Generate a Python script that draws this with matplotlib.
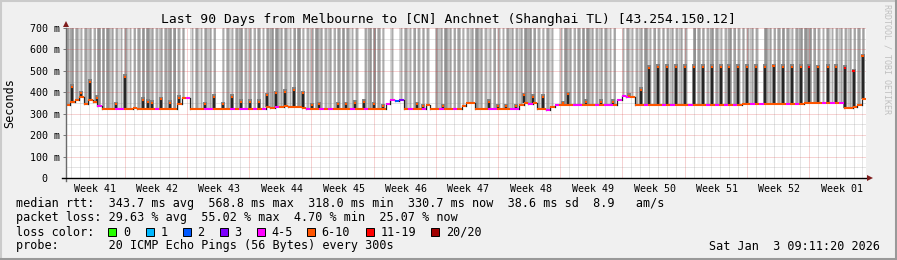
import matplotlib
matplotlib.use("Agg")
import matplotlib.pyplot as plt
import numpy as np
from matplotlib.patches import Rectangle
from matplotlib.lines import Line2D

# ---------------- data ----------------
title = "Last 90 Days from Melbourne to [CN] Anchnet (Shanghai TL) [43.254.150.12]"
week_labels = ["Week 41", "Week 42", "Week 43", "Week 44", "Week 45", "Week 46", "Week 47",
               "Week 48", "Week 49", "Week 50", "Week 51", "Week 52", "Week 01"]
y_ticks = [0, 100, 200, 300, 400, 500, 600, 700]
y_tick_labels = ["0  ", "100 m", "200 m", "300 m", "400 m", "500 m", "600 m", "700 m"]

# median RTT (ms) per half-day bin, 180 bins
median_ms = [
    340, 355, 365, 380, 345, 365, 355, 335, 320, 320,
    320, 322, 320, 320, 320, 325, 322, 320, 320, 320,
    322, 320, 320, 320, 322, 345, 375, 372, 322, 320,
    320, 320, 322, 320, 320, 320, 320, 322, 320, 320,
    320, 320, 322, 320, 320, 330, 328, 332, 330, 335,
    330, 333, 330, 325, 320, 320, 320, 320, 322, 320,
    320, 320, 320, 320, 322, 320, 320, 322, 320, 320,
    320, 320, 345, 362, 358, 366, 320, 320, 320, 320,
    320, 340, 320, 320, 320, 320, 320, 320, 320, 335,
    348, 348, 320, 320, 320, 320, 320, 320, 320, 320,
    320, 320, 340, 350, 345, 350, 320, 322, 316, 332,
    340, 340, 340, 340, 340, 340, 340, 340, 340, 340,
    340, 340, 340, 340, 365, 384, 378, 380, 343, 343,
    343, 343, 343, 343, 343, 343, 343, 343, 343, 343,
    343, 343, 343, 343, 343, 343, 343, 343, 343, 343,
    343, 343, 347, 347, 347, 347, 347, 347, 347, 347,
    347, 347, 347, 347, 347, 347, 352, 352, 352, 352,
    352, 352, 352, 352, 352, 328, 326, 330, 342, 368,
]
# lost pings (of 20) per bin
loss_pings = [
    6, 6, 6, 6, 6, 6, 6, 4, 6, 6,
    6, 4, 4, 6, 6, 6, 6, 6, 6, 6,
    4, 6, 6, 6, 6, 6, 6, 4, 6, 6,
    6, 4, 4, 6, 6, 6, 6, 4, 6, 4,
    4, 6, 4, 6, 4, 6, 6, 4, 6, 6,
    6, 6, 6, 6, 4, 6, 6, 4, 6, 4,
    6, 6, 6, 6, 4, 6, 6, 4, 6, 6,
    6, 6, 4, 4, 2, 3, 6, 4, 6, 6,
    4, 6, 6, 6, 4, 6, 6, 4, 6, 6,
    6, 6, 6, 6, 6, 4, 4, 6, 6, 6,
    4, 4, 6, 6, 4, 6, 6, 6, 4, 6,
    4, 6, 6, 6, 4, 4, 6, 6, 6, 4,
    6, 4, 4, 6, 4, 4, 4, 6, 6, 6,
    4, 6, 6, 6, 4, 6, 4, 6, 6, 6,
    4, 6, 6, 6, 4, 6, 4, 6, 4, 6,
    4, 6, 6, 6, 4, 6, 4, 6, 6, 6,
    6, 6, 4, 6, 4, 6, 6, 6, 6, 6,
    4, 6, 4, 6, 4, 6, 6, 6, 6, 6,
]
# smoke density above median per bin (0 none .. 3 dense)
smoke_shade = [
    2, 3, 2, 1, 2, 2, 1, 3, 3, 3, 2, 1, 1, 2, 1, 1, 2, 3, 3, 2,
    1, 2, 2, 3, 3, 1, 2, 0, 1, 2, 1, 2, 2, 1, 0, 1, 2, 1, 2, 3,
    1, 2, 1, 2, 1,
    2, 3, 3, 2, 2, 1, 2, 3, 1, 1, 2, 3, 2, 1, 2, 1, 2, 3, 2, 1,
    1, 0, 1, 3, 3, 2, 1, 0, 1, 0, 1, 2, 1, 2, 1, 2, 1, 0, 2, 2,
    3, 2, 1, 2, 1,
    1, 2, 3, 2, 1, 1, 2, 1, 1, 2, 2, 1, 2, 3, 3, 2, 1, 1, 2, 1,
    0, 1, 3, 2, 1, 2, 3, 3, 2, 1, 2, 2, 1, 1, 0, 1, 2, 1, 1, 2,
    3, 1, 2, 1, 2,
    1, 2, 1, 2, 1, 0, 3, 2, 2, 1, 3, 2, 1, 1, 3, 2, 1, 2, 1, 2,
    1, 0, 3, 2, 1, 2, 3, 2, 1, 2, 3, 3, 3, 2, 1, 1, 2, 1, 1, 2,
    1, 2, 1, 2, 2,
]
# short median spikes (day from start, peak ms, lost pings)
spike_day = [0.64, 1.65, 2.67, 3.45, 5.66, 6.64, 8.66, 9.26, 9.71, 10.65, 11.70, 12.71,
             15.60, 16.62, 17.70, 18.64, 19.65, 20.67, 21.71, 22.58, 23.62, 24.64, 25.68,
             26.63, 27.67, 28.50, 30.57, 31.50, 32.55, 33.56, 34.62, 35.63, 39.45, 40.13,
             42.38, 47.62, 48.63, 49.50, 50.62, 51.56, 52.50, 53.63, 55.88, 56.44, 58.50,
             60.19, 61.50, 63.37, 64.69, 65.62, 66.57, 67.61, 68.62, 69.64, 70.65, 71.63,
             72.67, 73.69, 74.62, 75.57, 76.58, 77.62, 78.64, 79.61, 80.63, 81.67, 82.69,
             83.62, 84.63, 85.69, 86.62, 87.64, 88.61, 89.62]
spike_ms = [426, 395, 450, 375, 345, 473, 364, 357, 352, 367, 352, 375,
            345, 380, 345, 380, 355, 355, 357, 387, 395, 403, 411,
            395, 340, 345, 345, 345, 350, 356, 345, 335, 345, 335,
            335, 357, 335, 335, 335, 387, 380, 380, 348, 390, 357,
            355, 357, 384, 411, 515, 518, 518, 519, 519, 519, 519,
            519, 519, 519, 519, 519, 519, 519, 521, 519, 519, 519,
            519, 516, 519, 519, 515, 499, 568]
spike_loss = [6] * 67 + [12, 6, 6, 6, 12, 12, 6]

legend_names = ["0", "1", "2", "3", "4-5", "6-10", "11-19", "20/20"]
legend_colors = ["#26ff00", "#00b8ff", "#0059ff", "#7e00ff", "#ff00ff", "#ff5500", "#ff0000", "#a10000"]


def loss_color(n):
    if n == 0:
        return legend_colors[0]
    if n == 1:
        return legend_colors[1]
    if n == 2:
        return legend_colors[2]
    if n == 3:
        return legend_colors[3]
    if n <= 5:
        return legend_colors[4]
    if n <= 10:
        return legend_colors[5]
    if n <= 19:
        return legend_colors[6]
    return legend_colors[7]


W, H = 897, 260
BIN = 0.5
MONO = "DejaVu Sans Mono"
# (background band colour, central streak colour) per smoke level
smoke_style = {1: ("#d8d8d8", "#acacac"), 2: ("#c2c2c2", "#a0a0a0"), 3: ("#aaaaaa", "#929292")}

fig = plt.figure(figsize=(W / 100, H / 100), dpi=100)
fig.patch.set_facecolor("#f0f0f0")
ax = fig.add_axes([66 / W, (H - 178) / H, 800 / W, 150 / H])
ax.set_facecolor("white")
ax.set_xlim(0, 90)
ax.set_ylim(0, 700)
for s in ax.spines.values():
    s.set_visible(False)

# smoke bars
n = len(median_ms)
starts = np.arange(n) * BIN
med = np.array(median_ms, dtype=float)
for i in range(n):
    sh = smoke_shade[i]
    if not sh:
        continue
    band, streak = smoke_style[sh]
    bottom = med[i] + 4
    ax.bar(starts[i], 700 - bottom, bottom=bottom, width=BIN * 0.85, align="edge",
           color=band, linewidth=0, zorder=1)
    ax.bar(starts[i] + BIN * 0.3, 700 - bottom, bottom=bottom, width=BIN * 0.35, align="edge",
           color=streak, linewidth=0, zorder=1.2)

# grid
grey = (0.55, 0.55, 0.55, 0.45)
red = (0.85, 0.25, 0.25, 0.45)
dot = (0, (1, 1))
day_lines = np.arange(0.60, 90, 1.0)
week_lines = np.arange(6.60, 90, 7.0)
for d in day_lines:
    if np.min(np.abs(week_lines - d)) > 0.1:
        ax.axvline(d, color=grey, lw=0.72, ls=dot, zorder=3)
for d in week_lines:
    ax.axvline(d, color=red, lw=0.72, ls=dot, zorder=3)
for yv in range(50, 700, 100):
    ax.axhline(yv, color=grey, lw=0.72, ls=dot, zorder=3)
for yv in range(100, 701, 100):
    ax.axhline(yv, color=red, lw=0.72, ls=dot, zorder=3)

# spikes
bins_of_spike = np.clip((np.array(spike_day) / BIN).astype(int), 0, n - 1)
base = med[bins_of_spike]
ax.vlines(spike_day, base, np.array(spike_ms) + 12, color="#808080", lw=2.8, zorder=4)
ax.vlines(spike_day, base, spike_ms, color="#141414", lw=1.2, zorder=5)

# median line with connectors
for i in range(n - 1):
    ax.plot([starts[i + 1], starts[i + 1]], [med[i], med[i + 1]], color="#222222", lw=0.9, zorder=5)
for i in range(n):
    ax.plot([starts[i], starts[i] + BIN], [med[i], med[i]], color=loss_color(loss_pings[i]),
            lw=1.5, solid_capstyle="butt", zorder=6)
for d, v, l in zip(spike_day, spike_ms, spike_loss):
    ax.plot([d - 0.13, d + 0.13], [v, v], color=loss_color(l), lw=1.5,
            solid_capstyle="butt", zorder=7)

# axes ticks/labels
ax.set_yticks(y_ticks)
ax.set_yticklabels(y_tick_labels, fontfamily=MONO, fontsize=7.2)
ax.tick_params(axis="y", length=2, width=0.7, color="#777777", pad=2.5)
week_centers = np.arange(len(week_labels)) * 7.0 + 3.26
ax.set_xticks(week_centers)
ax.set_xticklabels(week_labels, fontfamily=MONO, fontsize=7.2)
ax.tick_params(axis="x", length=0, pad=4)

# axis lines + arrows
ax.add_line(Line2D([0, 0], [-0.02, 1.0], transform=ax.transAxes, color="#6a6a6a",
                   lw=1.0, clip_on=False, zorder=8))
ax.add_line(Line2D([-0.005, 1.0], [0, 0], transform=ax.transAxes, color="#000000",
                   lw=1.0, clip_on=False, zorder=8))
ax.plot([0], [1.028], marker="^", ms=5, color="#7f1d1d", transform=ax.transAxes,
        clip_on=False, zorder=9, markeredgewidth=0)
ax.plot([1.005], [0], marker=">", ms=5, color="#7f1d1d", transform=ax.transAxes,
        clip_on=False, zorder=9, markeredgewidth=0)


def ftxt(x, y, s, **kw):
    kw.setdefault("fontfamily", MONO)
    kw.setdefault("fontsize", 8.5)
    fig.text(x / W, 1 - y / H, s, **kw)


ftxt(448.5, 19, title, ha="center", va="center", fontsize=9.4)
ftxt(10, 103, "Seconds", ha="center", va="center", rotation=90)
ftxt(887, 4, "RRDTOOL / TOBI OETIKER", ha="center", va="top", rotation=270,
     fontsize=6, color="#c0c0c0")

ftxt(16, 204, "median rtt:  343.7 ms avg  568.8 ms max  318.0 ms min  330.7 ms now  38.6 ms sd  8.9   am/s",
     va="center")
ftxt(16, 218, "packet loss: 29.63 % avg  55.02 % max  4.70 % min  25.07 % now", va="center")
ftxt(16, 232, "loss color:", va="center")
box_x = [108, 145.5, 182.5, 219.5, 256.5, 306.5, 365.5, 431]
for bx, nm, c in zip(box_x, legend_names, legend_colors):
    fig.patches.append(Rectangle((bx / W, 1 - 236 / H), 8 / W, 8 / H, transform=fig.transFigure,
                                 facecolor=c, edgecolor="black", lw=0.7))
    ftxt(bx + 15, 232, nm, va="center")
ftxt(16, 246, "probe:       20 ICMP Echo Pings (56 Bytes) every 300s", va="center")
ftxt(880, 246, "Sat Jan  3 09:11:20 2026", ha="right", va="center")

# 3D border
fig.lines.append(Line2D([0, 1], [1 - 1 / H, 1 - 1 / H], transform=fig.transFigure, color="#cbcbcb", lw=1.5))
fig.lines.append(Line2D([1 / W, 1 / W], [0, 1], transform=fig.transFigure, color="#cbcbcb", lw=1.5))
fig.lines.append(Line2D([0, 1], [1 / H, 1 / H], transform=fig.transFigure, color="#999999", lw=2.2))
fig.lines.append(Line2D([1 - 1 / W, 1 - 1 / W], [0, 1], transform=fig.transFigure, color="#999999", lw=2.2))

fig.savefig("out.png", dpi=100, facecolor=fig.get_facecolor())
